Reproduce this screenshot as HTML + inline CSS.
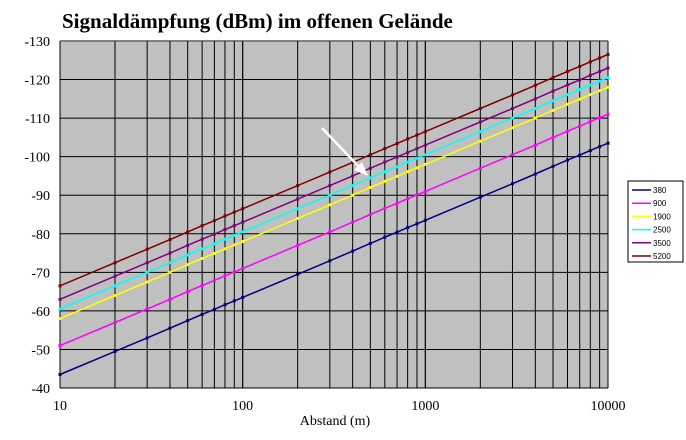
<!DOCTYPE html>
<html><head><meta charset="utf-8"><style>
body{margin:0;background:#fff;}
svg{display:block;font-family:"Liberation Serif",serif;}
</style></head><body>
<svg id="c" width="686" height="440">
<text x="62" y="28" font-size="21" font-weight="bold">Signaldämpfung (dBm) im offenen Gelände</text>
<rect x="60" y="41" width="548" height="347" fill="#c0c0c0"/>
<g id="grid"></g>
<g id="series"></g>
<g id="axes"></g>
<line x1="322" y1="128" x2="362" y2="170" stroke="#fff" stroke-width="2.5"/>
<polygon points="368,176 354,170 362,162" fill="#fff"/>
<text x="335" y="425" font-size="14" text-anchor="middle">Abstand (m)</text>
<g id="legend"></g>
</svg>
<script>
const distances=[10,20,30,40,50,60,70,80,90,100,200,300,400,500,600,700,800,900,1000,2000,3000,4000,5000,6000,7000,8000,9000,10000];
const seriesNames=["380","900","1900","2500","3500","5200"];
const s380=[-43.5,-49.5,-53,-55.5,-57.5,-59.1,-60.4,-61.6,-62.6,-63.5,-69.5,-73,-75.5,-77.5,-79.1,-80.4,-81.6,-82.6,-83.5,-89.5,-93,-95.5,-97.5,-99.1,-100.4,-101.6,-102.6,-103.5];
const s900=[-51,-57,-60.5,-63,-65,-66.6,-67.9,-69.1,-70.1,-71,-77,-80.5,-83,-85,-86.6,-87.9,-89.1,-90.1,-91,-97,-100.5,-103,-105,-106.6,-107.9,-109.1,-110.1,-111];
const s1900=[-58,-64,-67.5,-70,-72,-73.6,-74.9,-76.1,-77.1,-78,-84,-87.5,-90,-92,-93.6,-94.9,-96.1,-97.1,-98,-104,-107.5,-110,-112,-113.6,-114.9,-116.1,-117.1,-118];
const s2500=[-60.5,-66.5,-70,-72.5,-74.5,-76.1,-77.4,-78.6,-79.6,-80.5,-86.5,-90,-92.5,-94.5,-96.1,-97.4,-98.6,-99.6,-100.5,-106.5,-110,-112.5,-114.5,-116.1,-117.4,-118.6,-119.6,-120.5];
const s3500=[-63,-69,-72.5,-75,-77,-78.6,-79.9,-81.1,-82.1,-83,-89,-92.5,-95,-97,-98.6,-99.9,-101.1,-102.1,-103,-109,-112.5,-115,-117,-118.6,-119.9,-121.1,-122.1,-123];
const s5200=[-66.5,-72.5,-76,-78.5,-80.5,-82.1,-83.4,-84.6,-85.6,-86.5,-92.5,-96,-98.5,-100.5,-102.1,-103.4,-104.6,-105.6,-106.5,-112.5,-116,-118.5,-120.5,-122.1,-123.4,-124.6,-125.6,-126.5];
const yTicks=[-130,-120,-110,-100,-90,-80,-70,-60,-50,-40];
const xTickLabels=[10,100,1000,10000];
const colors=["#000080","#ff00ff","#ffff00","#00ffff","#800080","#800000"];
const allSeries=[s380,s900,s1900,s2500,s3500,s5200];
const L=60,R=608,T=41,B=388;
function xs(d){return L+(Math.log10(d)-1)/3*(R-L);}
function ys(v){return T+(v+130)/90*(B-T);}
const NS="http://www.w3.org/2000/svg";
function mk(tag,attrs,parent){const e=document.createElementNS(NS,tag);for(const k in attrs)e.setAttribute(k,attrs[k]);parent.appendChild(e);return e;}
const grid=document.getElementById('grid'),axes=document.getElementById('axes'),sg=document.getElementById('series'),lg=document.getElementById('legend');
yTicks.forEach(v=>{
 const l=mk('line',{x1:L,x2:R,y1:ys(v),y2:ys(v),stroke:v===-130?'#808080':'#000','stroke-width':v===-130?2:1},grid);
 
 
 const t=mk('text',{x:L-10,y:ys(v)+5,'font-size':14,'text-anchor':'end'},axes);
 t.textContent=v;
 
 
});
for(let dec=10;dec<10000;dec*=10){for(let m=1;m<=10;m++){const d=dec*m;
 const l=mk('line',{x1:xs(d),x2:xs(d),y1:T,y2:B,stroke:'#000','stroke-width':1},grid);
 
 
}}
xTickLabels.forEach(d=>{
 const t=mk('text',{x:xs(d),y:410,'font-size':14,'text-anchor':'middle'},axes);
 t.textContent=d;
 
 
});
allSeries.forEach((s,i)=>{
 const pts=s.map((v,j)=>xs(distances[j]).toFixed(1)+','+ys(v).toFixed(1)).join(' ');
 const p=mk('polyline',{points:pts,fill:'none',stroke:colors[i],'stroke-width':1.5},sg);
 
 
 s.forEach((v,j)=>{
  const r=mk('rect',{x:xs(distances[j])-1.5,y:ys(v)-1.5,width:3,height:3,fill:colors[i]},sg);
  
  
 });
});
const box=mk('rect',{x:628,y:181,width:55,height:81,fill:'#fff',stroke:'#000','stroke-width':1},lg);


seriesNames.forEach((n,i)=>{
 const y=190+i*13.2;
 const l=mk('line',{x1:632,x2:651,y1:y,y2:y,stroke:colors[i],'stroke-width':1.5},lg);
 
 
 const t=mk('text',{x:653,y:y+3,'font-size':8,'font-family':'Liberation Sans, sans-serif'},lg);
 t.textContent=n;
 
 
});
</script>
</body></html>
